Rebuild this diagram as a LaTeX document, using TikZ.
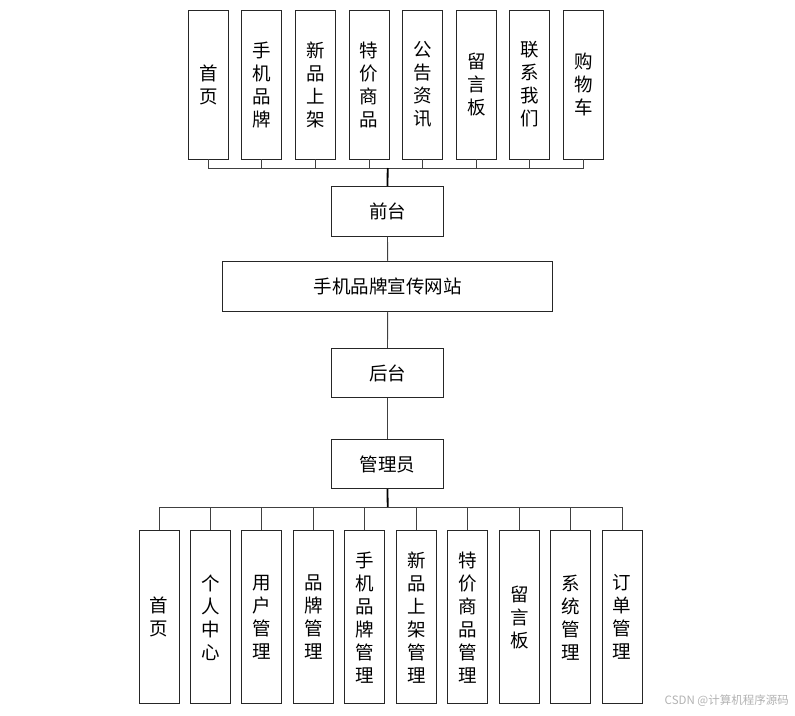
\documentclass[tikz,border=0pt]{standalone}
\usepackage{fontspec}
\setmainfont{Noto Sans CJK SC}
\begin{document}
\begin{tikzpicture}[x=1pt,y=-1pt,
  box/.style={draw=black!85,line width=0.9pt,fill=white,inner sep=0pt,font=\fontsize{18.5}{23}\selectfont,align=center},
  vbox/.style={box,minimum width=40pt,minimum height=149pt},
  bbox/.style={box,minimum width=40pt,minimum height=173pt},
  hbox/.style={box,minimum width=111.5pt,minimum height=49.5pt},
  link/.style={draw=black!75,line width=0.9pt},
  trunk/.style={draw=black,line width=1.8pt}]
\useasboundingbox (0,0) rectangle (795,715);
% top row
\foreach \t [count=\i] in {首\\页,手\\机\\品\\牌,新\\品\\上\\架,特\\价\\商\\品,公\\告\\资\\讯,留\\言\\板,联\\系\\我\\们,购\\物\\车}{
  \node[vbox] (t\i) at ({208.3+53.6*(\i-1)},84.5) {\t};
}
\coordinate (busT) at (387.7,168);
\node[hbox] (front) at (387.5,211.3) {前台};
\node[box,minimum width=330pt,minimum height=49.5pt] (site) at (387.7,286.3) {手机品牌宣传网站};
\node[hbox] (back) at (387.5,373) {后台};
\node[hbox] (admin) at (387.5,464) {管理员};
\coordinate (busB) at (387.7,507.3);
% bottom row
\foreach \t [count=\i] in {首\\页,个\\人\\中\\心,用\\户\\管\\理,品\\牌\\管\\理,手\\机\\品\\牌\\管\\理,新\\品\\上\\架\\管\\理,特\\价\\商\\品\\管\\理,留\\言\\板,系\\统\\管\\理,订\\单\\管\\理}{
  \node[bbox] (b\i) at ({159+51.47*(\i-1)},617.3) {\t};
}
% top connectors
\foreach \i in {1,...,8}{\draw[link] (t\i.south) -- (t\i.south |- busT);}
\draw[link] (t1.south |- busT) -- (t8.south |- busT);
\draw[trunk] (busT) -- (front.north);
\draw[link] (front.south) -- (site.north);
\draw[link] (site.south) -- (back.north);
\draw[link] (back.south) -- (admin.north);
% bottom connectors
\draw[trunk] (admin.south) -- (busB);
\draw[link] (b1.north |- busB) -- (b10.north |- busB);
\foreach \i in {1,...,10}{\draw[link] (b\i.north |- busB) -- (b\i.north);}
% watermark
\node[anchor=east,text=black!30,font=\fontsize{11.5}{13}\selectfont,inner sep=0pt] (wm) at (789,701) {CSDN @计算机程序源码};
\end{tikzpicture}
\end{document}
